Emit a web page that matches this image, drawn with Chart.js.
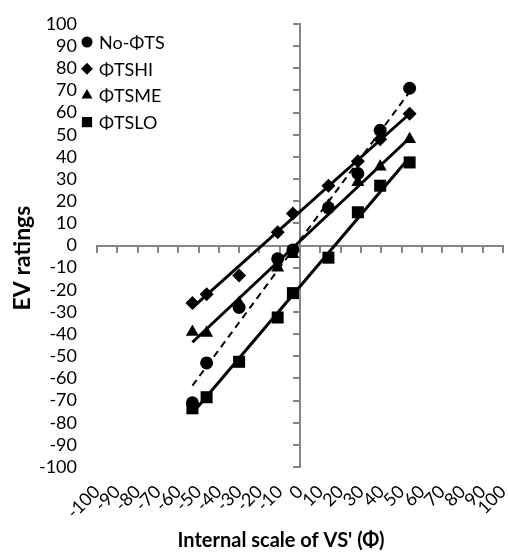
<!DOCTYPE html>
<html>
<head>
<meta charset="utf-8">
<script src="https://cdn.jsdelivr.net/npm/chart.js@4"></script>
<style>
  html, body { margin: 0; padding: 0; background: #fff; }
  #wrap { width: 508px; height: 554px; }
</style>
</head>
<body>
<div id="wrap"><canvas id="chart" width="508" height="554"></canvas></div>
<script>
// values
const seriesNames = ['No-ΦTS', 'ΦTSHI', 'ΦTSME', 'ΦTSLO'];
const internalScale = [-53, -46, -30, -11, -3.5, 14, 28.5, 39.5, 54];
const noTS = [-71, -53, -28, -6, -2, 17, 32.5, 52, 71];
const tsHI = [-26, -22, -13.5, 6, 14.5, 27, 38, 48, 59.5];
const tsME = [-39, -39.5, -26, -10, -4, 18, 28.5, 35.5, 48];
const tsLO = [-73.5, -68.5, -52.5, -32.5, -21.5, -5.5, 15, 27, 37.5];

const axisMin = -100;
const axisMax = 100;
const axisStep = 10;

const pointStyles = ['circle', 'rectRot', 'triangle', 'rect'];
const pointSizes = [6.5, 7, 7.5, 8.5];
const trendDash = [[7, 5], [], [], []];

const tickFont = { family: 'Lato', size: 18 };
const axisGrey = '#868686';

function linearFit(xs, ys) {
    const n = xs.length;
    const mx = xs.reduce((a, b) => a + b, 0) / n;
    const my = ys.reduce((a, b) => a + b, 0) / n;
    let sxy = 0, sxx = 0;
    for (let i = 0; i < n; i++) {
        sxy += (xs[i] - mx) * (ys[i] - my);
        sxx += (xs[i] - mx) * (xs[i] - mx);
    }
    const slope = sxy / sxx;
    return { slope: slope, intercept: my - slope * mx };
}

const allSeries = [noTS, tsHI, tsME, tsLO];
const datasets = [];

allSeries.forEach((values, i) => {
    datasets.push({
        label: seriesNames[i],
        data: internalScale.map((x, k) => ({ x: x, y: values[k] })),
        showLine: false,
        pointStyle: pointStyles[i],
        pointRadius: pointSizes[i],
        pointHoverRadius: pointSizes[i],
        pointBackgroundColor: '#000',
        pointBorderColor: '#000',
        pointBorderWidth: 0
    });
});

// linear trendlines, one per series
allSeries.forEach((values, i) => {
    const fit = linearFit(internalScale, values);
    const x0 = Math.min(...internalScale);
    const x1 = Math.max(...internalScale);
    datasets.push({
        label: 'trend ' + seriesNames[i],
        data: [
            { x: x0, y: fit.intercept + fit.slope * x0 },
            { x: x1, y: fit.intercept + fit.slope * x1 }
        ],
        showLine: true,
        borderColor: '#000',
        borderWidth: i === 0 ? 2 : 3,
        borderDash: trendDash[i],
        pointRadius: 0,
        pointHoverRadius: 0,
        fill: false
    });
});

function drawMarker(ctx, style, radius, x, y) {
    if (Chart.helpers && Chart.helpers.drawPoint) {
        Chart.helpers.drawPoint(ctx, { pointStyle: style, radius: radius, rotation: 0, borderWidth: 0 }, x, y);
    } else {
        ctx.beginPath();
        ctx.arc(x, y, radius, 0, Math.PI * 2);
        ctx.fill();
    }
}

const overlayText = {
    id: 'overlayText',
    afterDraw(chart) {
        const ctx = chart.ctx;
        ctx.save();
        ctx.fillStyle = '#000';

        // legend in the upper left corner
        ctx.font = '18px Lato';
        ctx.textAlign = 'left';
        ctx.textBaseline = 'middle';
        seriesNames.forEach((name, i) => {
            const y = 42 + i * 26.7;
            drawMarker(ctx, pointStyles[i], pointSizes[i] * 0.85, 87, y);
            ctx.fillText(name, 99, y + 1);
        });

        // axis titles
        ctx.font = 'bold 20px Lato';
        ctx.textAlign = 'center';
        ctx.fillText("Internal scale of VS' (Φ)", 281, 541);

        ctx.font = 'bold 23px Lato';
        ctx.translate(23, 258);
        ctx.rotate(-Math.PI / 2);
        ctx.fillText('EV ratings', 0, 0);
        ctx.restore();
    }
};

function noOverflow(s) {
    s.paddingLeft = 0;
    s.paddingRight = 0;
    s.paddingTop = 0;
    s.paddingBottom = 0;
}

const ctx = document.getElementById('chart').getContext('2d');
new Chart(ctx, {
    type: 'scatter',
    data: { datasets: datasets },
    options: {
        responsive: false,
        animation: false,
        layout: { autoPadding: false, padding: { top: 24, right: 5, bottom: 0, left: 0 } },
        plugins: {
            legend: { display: false },
            tooltip: { enabled: false }
        },
        scales: {
            x: {
                type: 'linear',
                position: 'bottom',
                min: axisMin,
                max: axisMax,
                ticks: {
                    stepSize: axisStep,
                    autoSkip: false,
                    minRotation: 45,
                    maxRotation: 45,
                    color: '#000',
                    font: tickFont,
                    padding: 14
                },
                grid: { display: false, drawTicks: false },
                border: { display: false },
                afterFit: (s) => { s.height = 87; noOverflow(s); }
            },
            y: {
                type: 'linear',
                position: 'left',
                min: axisMin,
                max: axisMax,
                ticks: {
                    stepSize: axisStep,
                    autoSkip: false,
                    color: '#000',
                    font: tickFont,
                    padding: 20
                },
                grid: { display: false, drawTicks: false },
                border: { display: false },
                afterFit: (s) => { s.width = 97; noOverflow(s); }
            },
            // axis lines crossing at the origin
            xLine: {
                type: 'linear',
                axis: 'x',
                position: { y: 0 },
                min: axisMin,
                max: axisMax,
                ticks: { stepSize: axisStep, autoSkip: false, display: false },
                grid: { drawOnChartArea: false, drawTicks: true, tickLength: 6, color: axisGrey, lineWidth: 2 },
                border: { color: axisGrey, width: 2 }
            },
            yLine: {
                type: 'linear',
                axis: 'y',
                position: { x: 0 },
                min: axisMin,
                max: axisMax,
                ticks: { stepSize: axisStep, autoSkip: false, display: false },
                grid: { drawOnChartArea: false, drawTicks: true, tickLength: 6, color: axisGrey, lineWidth: 2 },
                border: { color: axisGrey, width: 2 }
            }
        }
    },
    plugins: [overlayText]
});
</script>
</body>
</html>
